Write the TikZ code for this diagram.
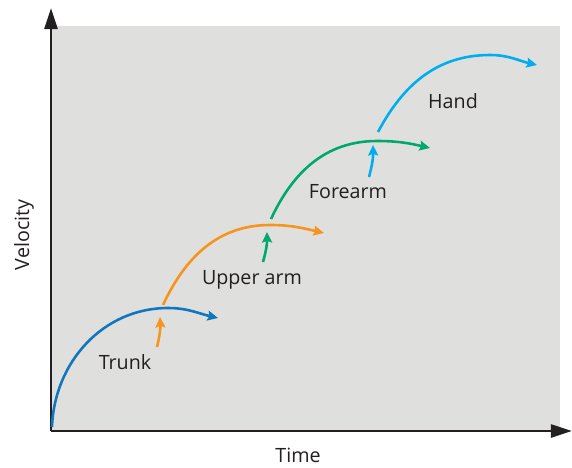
\documentclass[tikz,border=0pt]{standalone}
\usepackage{fontspec}
\setmainfont{Open Sans}
\usepackage{xcolor}
\usetikzlibrary{arrows.meta, positioning}

\definecolor{axisgray}{RGB}{35,31,32}
\definecolor{panelgray}{RGB}{223,224,222}
\definecolor{trunkblue}{RGB}{17,118,190}
\definecolor{armorange}{RGB}{247,148,29}
\definecolor{foregreen}{RGB}{0,168,110}
\definecolor{handblue}{RGB}{0,174,239}

\begin{document}
\begin{tikzpicture}[
  x=0.03cm, y=0.03cm,
  font=\fontsize{16.8}{20}\selectfont,
  axis/.style    = {line width=2.4pt, axisgray,
                    -{Triangle[length=18pt, width=11pt]}},
  swing/.style   = {line width=2.2pt,
                    -{Stealth[length=9pt, width=8.5pt, inset=1.5pt]}},
  label/.style   = {text=axisgray, inner sep=1pt}
]
\useasboundingbox (0,0) rectangle (572,467);

% ---------- panel ----------
\fill[panelgray] (51,36) rectangle (560,441);

% ---------- axes ----------
\coordinate (origin) at (51,36);
\coordinate (ytop)   at (51,459);
\coordinate (xend)   at (572,36);
\draw[axis] (origin) -- (ytop);
\draw[axis] (origin) -- (xend);

\node[label, rotate=90] (vel)  at (24,232) {Velocity};
\node[label]            (time) at (298,12) {Time};

% ---------- segments ----------
\coordinate (t0) at (52,40);   \coordinate (t1) at (168,159); \coordinate (t2) at (218,149);
\coordinate (u0) at (163,162); \coordinate (u1) at (270,242); \coordinate (u2) at (324,234);
\coordinate (f0) at (271,248); \coordinate (f1) at (377,326); \coordinate (f2) at (430,319);
\coordinate (h0) at (378,335); \coordinate (h1) at (490,412); \coordinate (h2) at (537,402);

\draw[swing, trunkblue] (t0) to[out=88, in=180] (t1) to[out=0, in=167] (t2);
\draw[swing, armorange] (u0) to[out=65, in=180] (u1) to[out=0, in=167] (u2);
\draw[swing, foregreen] (f0) to[out=65, in=180] (f1) to[out=0, in=167] (f2);
\draw[swing, handblue]  (h0) to[out=62, in=180] (h1) to[out=0, in=167] (h2);

% ---------- hand-over arrows ----------
\coordinate (ua) at (157,120); \coordinate (ub) at (160,150);
\coordinate (fa) at (263,205); \coordinate (fb) at (267,235);
\coordinate (ha) at (369,290); \coordinate (hb) at (373,322);
\draw[swing, armorange] (ua) to[bend right=8] (ub);
\draw[swing, foregreen] (fa) to[bend right=8] (fb);
\draw[swing, handblue]  (ha) to[bend right=8] (hb);

% ---------- labels ----------
\node[label] (trunk)    at (125,105) {Trunk};
\node[label] (upperarm) at (252,187) {Upper arm};
\node[label] (forearm)  at (348,275) {Forearm};
\node[label] (hand)     at (453,366) {Hand};

\end{tikzpicture}
\end{document}
